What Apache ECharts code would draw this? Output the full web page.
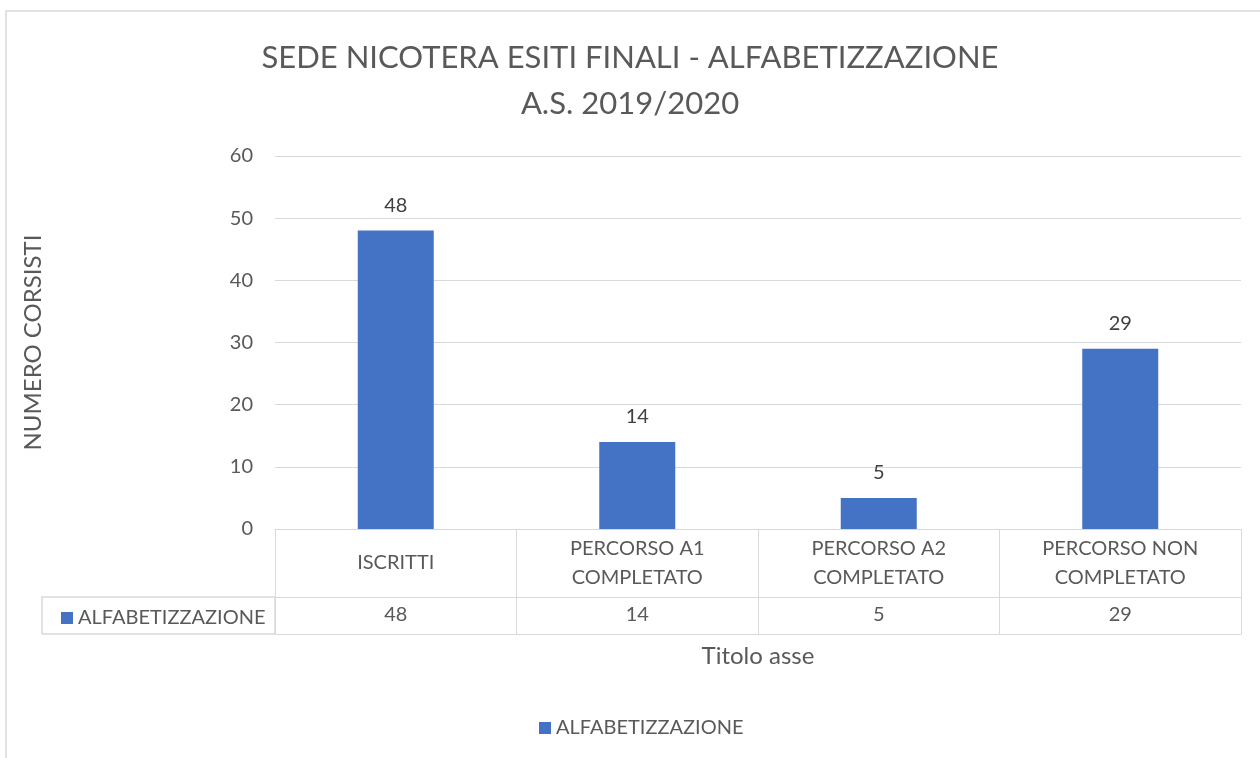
<!DOCTYPE html>
<html>
<head>
<meta charset="utf-8">
<script src="https://cdn.jsdelivr.net/npm/echarts@6/dist/echarts.min.js"></script>
<style>
html,body{margin:0;padding:0;background:#fff;}
#chart{width:1260px;height:758px;}
</style>
</head>
<body>
<div id="chart"></div>
<script>
// dati
var categorie = ['ISCRITTI', 'PERCORSO A1\nCOMPLETATO', 'PERCORSO A2\nCOMPLETATO', 'PERCORSO NON\nCOMPLETATO'];
var nomeSerie = 'ALFABETIZZAZIONE';
var valori = [48, 14, 5, 29];
var titolo = 'SEDE NICOTERA ESITI FINALI - ALFABETIZZAZIONE\nA.S. 2019/2020';

var font = 'Lato';
var grigio = '#d9d9d9';
var testo = '#595959';

var option = {
    animation: false,
    textStyle: {fontFamily: font},
    title: {
        text: titolo,
        left: 'center',
        top: 30,
        textStyle: {fontFamily: font, fontSize: 31, fontWeight: 'normal', color: testo, lineHeight: 46}
    },
    legend: [
        {
            data: [nomeSerie],
            bottom: 15,
            left: 534,
            icon: 'rect',
            itemWidth: 12,
            itemHeight: 12,
            itemGap: 6,
            textStyle: {fontFamily: font, fontSize: 20, color: testo}
        },
        {
            data: [nomeSerie],
            left: 56,
            top: 603,
            icon: 'rect',
            itemWidth: 12,
            itemHeight: 12,
            itemGap: 6,
            selectedMode: false,
            textStyle: {fontFamily: font, fontSize: 20, color: testo}
        }
    ],
    grid: {left: 275, right: 19, top: 156, bottom: 229},
    xAxis: [
        {
            type: 'category',
            data: categorie,
            axisLine: {lineStyle: {color: grigio}},
            axisTick: {show: true, length: 105, lineStyle: {color: grigio}},
            axisLabel: {fontFamily: font, fontSize: 20, color: testo, lineHeight: 29, margin: 34, verticalAlign: 'middle', interval: 0}
        },
        {
            type: 'category',
            position: 'bottom',
            offset: 68,
            data: valori.map(String),
            axisLine: {lineStyle: {color: grigio}},
            axisTick: {show: false},
            axisLabel: {fontFamily: font, fontSize: 20, color: testo, margin: 18, verticalAlign: 'middle', interval: 0}
        },
        {
            type: 'category',
            position: 'bottom',
            offset: 105,
            data: categorie,
            name: 'Titolo asse',
            nameLocation: 'middle',
            nameGap: 10,
            nameTextStyle: {fontFamily: font, fontSize: 24, color: testo},
            axisLine: {lineStyle: {color: grigio}},
            axisTick: {show: false},
            axisLabel: {show: false}
        }
    ],
    yAxis: {
        type: 'value',
        min: 0,
        max: 60,
        interval: 10,
        name: 'NUMERO CORSISTI',
        nameLocation: 'middle',
        nameGap: 230,
        nameTextStyle: {fontFamily: font, fontSize: 24, color: testo},
        axisLine: {show: false},
        axisTick: {show: false},
        axisLabel: {fontFamily: font, fontSize: 20, color: testo, margin: 22},
        splitLine: {lineStyle: {color: grigio}}
    },
    series: [{
        name: nomeSerie,
        type: 'bar',
        data: valori,
        barWidth: 76,
        itemStyle: {color: '#4472c4'},
        label: {show: true, position: 'top', distance: 15, fontFamily: font, fontSize: 20, color: '#404040'}
    }],
    graphic: [
        {
            type: 'rect',
            x: 6, y: 11,
            shape: {width: 1300, height: 800},
            style: {fill: 'none', stroke: grigio, lineWidth: 1.5},
            silent: true
        },
        {
            type: 'rect',
            x: 42, y: 597,
            shape: {width: 233, height: 37},
            style: {fill: 'none', stroke: grigio, lineWidth: 1.5},
            silent: true
        }
    ]
};

echarts.init(document.getElementById('chart')).setOption(option);
</script>
</body>
</html>
